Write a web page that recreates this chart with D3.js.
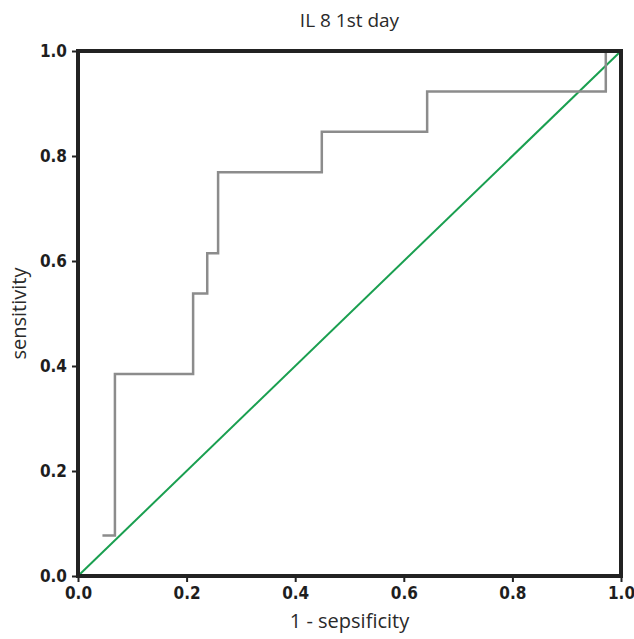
<!DOCTYPE html>
<html><head><meta charset="utf-8">
<script src="https://cdn.jsdelivr.net/npm/d3@7"></script>
<style>body{margin:0;background:#fff}</style>
</head><body>
<svg id="c" width="634" height="639"></svg>
<script>
const rocX = [0.045, 0.068, 0.068, 0.212, 0.212, 0.238, 0.238, 0.258, 0.258, 0.449, 0.449, 0.643, 0.643, 0.972, 0.972, 1.0];
const rocY = [0.077, 0.077, 0.385, 0.385, 0.538, 0.538, 0.615, 0.615, 0.769, 0.769, 0.846, 0.846, 0.923, 0.923, 1.0, 1.0];
const refX = [0, 1];
const refY = [0, 1];
const ticks = [0, 0.2, 0.4, 0.6, 0.8, 1.0];

const svg = d3.select("#c");
const L = 78, R = 621, T = 51, B = 576;
const x = d3.scaleLinear().domain([0, 1]).range([L, R]);
const y = d3.scaleLinear().domain([0, 1]).range([B, T]);
const tickFont = "'Liberation Sans Narrow', 'Arial Narrow', 'DejaVu Sans Condensed', sans-serif";
const labFont = "'Open Sans', 'Noto Sans', sans-serif";

// axes
const xa = svg.append("g").attr("transform", `translate(0,${B})`)
  .call(d3.axisBottom(x).tickValues(ticks).tickFormat(d3.format(".1f")).tickSizeOuter(0).tickSize(6).tickPadding(5));
const ya = svg.append("g").attr("transform", `translate(${L},0)`)
  .call(d3.axisLeft(y).tickValues(ticks).tickFormat(d3.format(".1f")).tickSizeOuter(0).tickSize(6).tickPadding(5));
[xa, ya].forEach(a => {
  a.select(".domain").remove();
  a.selectAll("line").attr("stroke", "#222").attr("stroke-width", 2);
  a.selectAll("text").attr("font-family", tickFont).attr("font-weight", "bold")
    .attr("font-size", 17).attr("fill", "#1e1e1e");
});

// reference diagonal
const line = d3.line().x(d => x(d[0])).y(d => y(d[1]));
svg.append("path").datum(refX.map((v, i) => [v, refY[i]]))
  .attr("d", line).attr("fill", "none").attr("stroke", "#1a9f50").attr("stroke-width", 2);

// ROC curve
svg.append("path").datum(rocX.map((v, i) => [v, rocY[i]]))
  .attr("d", line).attr("fill", "none").attr("stroke", "#8c8c8c").attr("stroke-width", 2.5);

// frame
svg.append("rect").attr("x", L).attr("y", T).attr("width", R - L).attr("height", B - T)
  .attr("fill", "none").attr("stroke", "#222").attr("stroke-width", 4);

// title and labels
svg.append("text").attr("x", (L + R) / 2).attr("y", 27).attr("text-anchor", "middle")
  .attr("font-family", labFont).attr("font-size", 19).attr("fill", "#2a2a2a").text("IL 8 1st day");
svg.append("text").attr("x", (L + R) / 2).attr("y", 628).attr("text-anchor", "middle")
  .attr("font-family", labFont).attr("font-size", 20).attr("fill", "#2a2a2a").text("1 - sepsificity");
svg.append("text").attr("transform", `translate(26,${(T + B) / 2}) rotate(-90)`).attr("text-anchor", "middle")
  .attr("font-family", labFont).attr("font-size", 20).attr("fill", "#2a2a2a").text("sensitivity");
</script>
</body></html>
